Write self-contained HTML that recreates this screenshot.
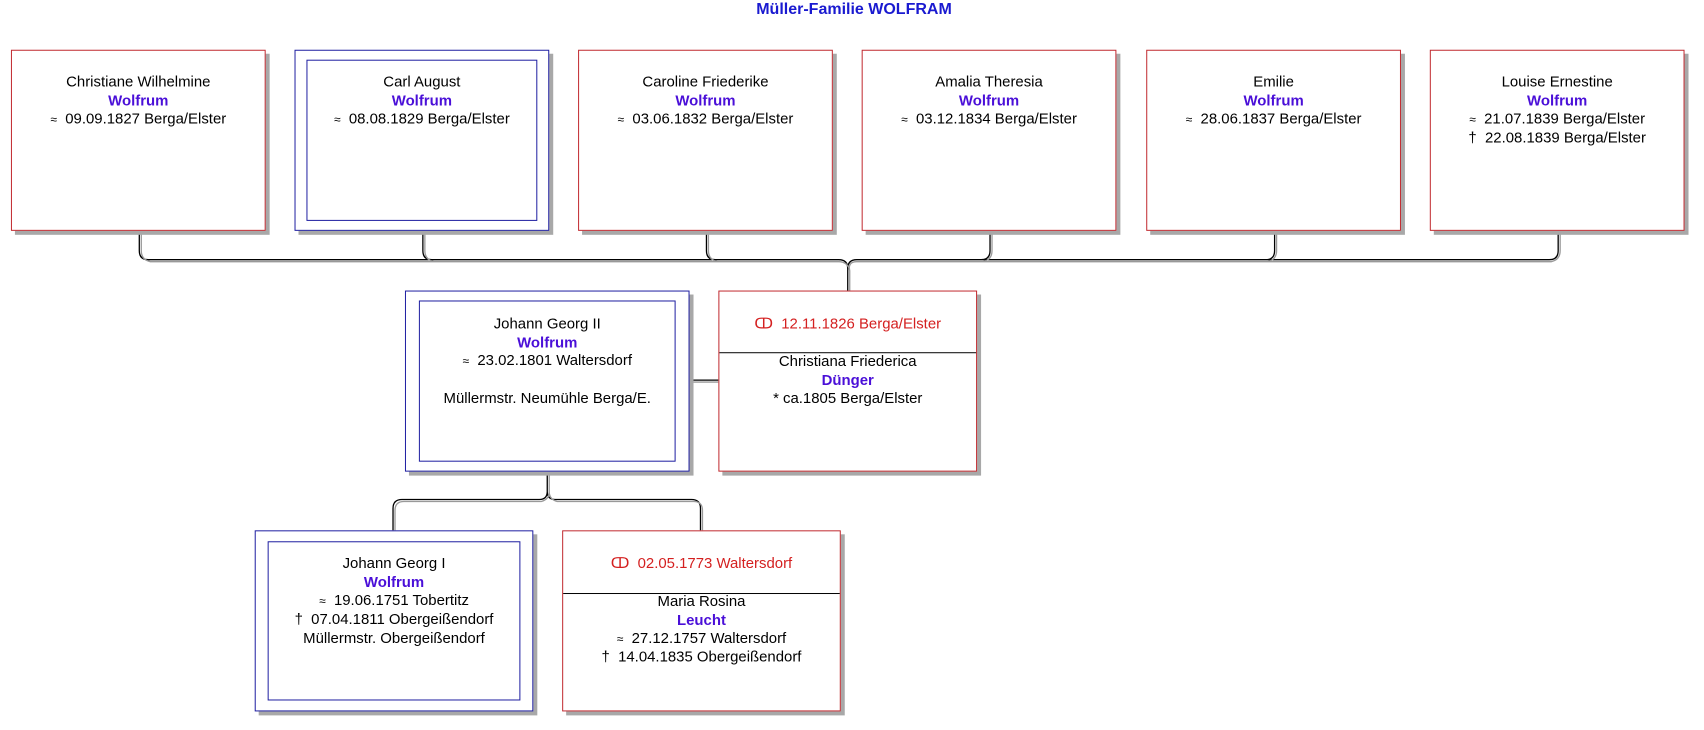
<!DOCTYPE html>
<html><head><meta charset="utf-8"><style>
body{margin:0;width:1704px;height:730px;background:#fff;position:relative;overflow:hidden;font-family:"Liberation Sans",Arial,sans-serif;font-size:15px;color:#000}
#w{position:absolute;left:0;top:0;width:1704px;height:730px;transform:scale(0.995);transform-origin:0 0}
.b{position:absolute;background:#fff;box-shadow:4px 4px 0 #a8a8a8;box-sizing:border-box}
.r{border:1.5px solid #c0272d}
.bl{border:1.5px solid #1c1ca0}
.in{position:absolute;border:1.5px solid #1c1ca0;box-sizing:border-box}
.t{position:absolute;left:0;right:0;text-align:center;line-height:18.7px}
.n{color:#4a0fd8;font-weight:bold}
.m{color:#d42020}
.s{font-size:12px}
</style></head><body>
<div style="position:absolute;left:0;width:1708px;top:1px;text-align:center;color:#1a1ad0;font-weight:bold;font-size:16px">Müller-Familie WOLFRAM</div>
<div id="w">
<svg width="1704" height="730" style="position:absolute;left:0;top:0">
<g fill="none" stroke-width="1.3">
<path d="M140 232 V252 q0 9 9 9 H843 q9 0 9 9 M425 232 V252 q0 9 9 9 M710 232 V252 q0 9 9 9 M995 232 V252 q0 9 -9 9 M1281 232 V252 q0 9 -9 9 M1566 232 V252 q0 9 -9 9 H861 q-9 0 -9 9 V292" stroke="#000"/>
<path d="M142 232 V252 q0 9 9 11 H843 q9 0 11 9 M427 232 V252 q0 9 9 11 M712 232 V252 q0 9 9 11 M997 232 V252 q0 9 -9 11 M1283 232 V252 q0 9 -9 11 M1568 232 V252 q0 9 -9 11 H861 q-9 0 -7 9 V292" stroke="#999"/>
<path d="M692 382 H722" stroke="#000"/><path d="M692 384 H722" stroke="#999"/>
<path d="M550 473 V494 q0 8 -8 8 H404 q-9 0 -9 9 V533 M550 494 q0 8 8 8 H695 q9 0 9 9 V533" stroke="#000"/>
<path d="M552 473 V494 q0 8 -8 10 H406 q-9 0 -9 9 V533 M552 494 q0 8 8 10 H697 q9 0 9 9 V533" stroke="#999"/>
</g></svg>

<div class="b r" style="left:11px;top:50px;width:256px;height:182px"><div class="t" style="top:23px">Christiane Wilhelmine<br><span class="n">Wolfrum</span><br><span class="s">≈</span>&nbsp; 09.09.1827 Berga/Elster</div></div>
<div class="b bl" style="left:296px;top:50px;width:256px;height:182px"><div class="in" style="left:11px;top:9px;right:11px;bottom:9px"></div><div class="t" style="top:23px">Carl August<br><span class="n">Wolfrum</span><br><span class="s">≈</span>&nbsp; 08.08.1829 Berga/Elster</div></div>
<div class="b r" style="left:581px;top:50px;width:256px;height:182px"><div class="t" style="top:23px">Caroline Friederike<br><span class="n">Wolfrum</span><br><span class="s">≈</span>&nbsp; 03.06.1832 Berga/Elster</div></div>
<div class="b r" style="left:866px;top:50px;width:256px;height:182px"><div class="t" style="top:23px">Amalia Theresia<br><span class="n">Wolfrum</span><br><span class="s">≈</span>&nbsp; 03.12.1834 Berga/Elster</div></div>
<div class="b r" style="left:1152px;top:50px;width:256px;height:182px"><div class="t" style="top:23px">Emilie<br><span class="n">Wolfrum</span><br><span class="s">≈</span>&nbsp; 28.06.1837 Berga/Elster</div></div>
<div class="b r" style="left:1437px;top:50px;width:256px;height:182px"><div class="t" style="top:23px">Louise Ernestine<br><span class="n">Wolfrum</span><br><span class="s">≈</span>&nbsp; 21.07.1839 Berga/Elster<br>†&nbsp; 22.08.1839 Berga/Elster</div></div>

<div class="b bl" style="left:407px;top:292px;width:286px;height:182px"><div class="in" style="left:13px;top:9px;right:13px;bottom:9px"></div><div class="t" style="top:24px">Johann Georg II<br><span class="n">Wolfrum</span><br><span class="s">≈</span>&nbsp; 23.02.1801 Waltersdorf<br><br>Müllermstr. Neumühle Berga/E.</div></div>
<div class="b r" style="left:722px;top:292px;width:260px;height:182px"><div class="t m" style="top:24px">ↀ&nbsp; 12.11.1826 Berga/Elster</div><div style="position:absolute;left:0;right:0;top:61px;border-top:1.3px solid #000"></div><div class="t" style="top:62px">Christiana Friederica<br><span class="n">Dünger</span><br>* ca.1805 Berga/Elster</div></div>

<div class="b bl" style="left:256px;top:533px;width:280px;height:182px"><div class="in" style="left:12px;top:10px;right:12px;bottom:10px"></div><div class="t" style="top:24px">Johann Georg I<br><span class="n">Wolfrum</span><br><span class="s">≈</span>&nbsp; 19.06.1751 Tobertitz<br>†&nbsp; 07.04.1811 Obergeißendorf<br>Müllermstr. Obergeißendorf</div></div>
<div class="b r" style="left:565px;top:533px;width:280px;height:182px"><div class="t m" style="top:24px">ↀ&nbsp; 02.05.1773 Waltersdorf</div><div style="position:absolute;left:0;right:0;top:62px;border-top:1.3px solid #000"></div><div class="t" style="top:62px">Maria Rosina<br><span class="n">Leucht</span><br><span class="s">≈</span>&nbsp; 27.12.1757 Waltersdorf<br>†&nbsp; 14.04.1835 Obergeißendorf</div></div>
</div>
</body></html>
